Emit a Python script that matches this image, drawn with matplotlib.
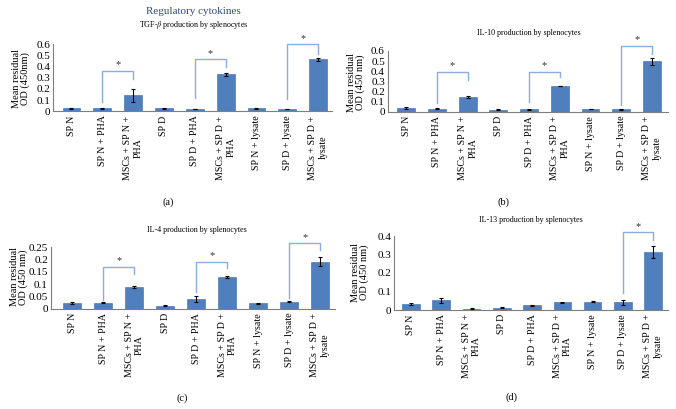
import matplotlib
matplotlib.use("Agg")
import matplotlib.pyplot as plt
import numpy as np

plt.rcParams['font.family'] = ['Liberation Serif', 'DejaVu Serif']
plt.rcParams['mathtext.fontset'] = 'stix'

categories = ["SP N", "SP N + PHA", "MSCs + SP N +\nPHA", "SP D", "SP D + PHA",
              "MSCs + SP D +\nPHA", "SP N + lysate", "SP D + lysate", "MSCs + SP D +\nlysate"]

tgf_vals = [0.027, 0.025, 0.143, 0.025, 0.02, 0.33, 0.025, 0.02, 0.463]
tgf_err = [0.005, 0.004, 0.057, 0.004, 0.003, 0.015, 0.004, 0.003, 0.015]

il10_vals = [0.040, 0.028, 0.142, 0.018, 0.025, 0.254, 0.027, 0.023, 0.500]
il10_err = [0.010, 0.006, 0.010, 0.004, 0.004, 0.004, 0.004, 0.003, 0.035]

il4_vals = [0.0235, 0.0235, 0.0895, 0.0125, 0.041, 0.129, 0.022, 0.0275, 0.192]
il4_err = [0.005, 0.002, 0.004, 0.003, 0.012, 0.005, 0.002, 0.002, 0.017]

il13_vals = [0.033, 0.052, 0.008, 0.013, 0.026, 0.041, 0.044, 0.041, 0.315]
il13_err = [0.005, 0.013, 0.004, 0.004, 0.003, 0.002, 0.003, 0.013, 0.033]

titles = ["TGF-$\\beta$ production by splenocytes", "IL-10 production by splenocytes",
          "IL-4 production by splenocytes", "IL-13 production by splenocytes"]
panel_labels = ["(a)", "(b)", "(c)", "(d)"]
ylabels = ["Mean residual\nOD (450nm)", "Mean residual\nOD (450 nm)",
           "Mean residual\nOD (450 nm)", "Mean residual\nOD (450 nm)"]
ytick_vals = [[0, 0.1, 0.2, 0.3, 0.4, 0.5, 0.6], [0, 0.1, 0.2, 0.3, 0.4, 0.5, 0.6],
              [0, 0.05, 0.1, 0.15, 0.2, 0.25], [0, 0.1, 0.2, 0.3, 0.4]]
ytick_labels = [["0", "0.1", "0.2", "0.3", "0.4", "0.5", "0.6"],
                ["0", "0.1", "0.2", "0.3", "0.4", "0.5", "0.6"],
                ["0", "0.05", "0.1", "0.15", "0.2", "0.25"],
                ["0", "0.1", "0.2", "0.3", "0.4"]]

# significance brackets: (left bar, right bar, left leg bottom, top, right leg bottom)
brackets = [
    [(1, 2, 0.086, 0.36, 0.286), (4, 5, 0.12, 0.464, 0.393), (7, 8, 0.11, 0.598, 0.51)],
    [(1, 2, 0.09, 0.396, 0.31), (4, 5, 0.093, 0.396, 0.34), (7, 8, 0.066, 0.653, 0.568)],
    [(1, 2, 0.035, 0.171, 0.14), (4, 5, 0.07, 0.191, 0.164), (7, 8, 0.042, 0.266, 0.239)],
    [(7, 8, 0.09, 0.42, 0.378)],
]

values = [tgf_vals, il10_vals, il4_vals, il13_vals]
errors = [tgf_err, il10_err, il4_err, il13_err]

W, H = 676, 409
fig = plt.figure(figsize=(W / 100, H / 100), dpi=100)

def px_axes(left, right, top, bottom):
    return [left / W, 1 - bottom / H, (right - left) / W, (bottom - top) / H]

axes_px = [(53, 332, 44, 111.3), (387.7, 667.7, 51, 111.7),
           (50.7, 335, 247.3, 308.7), (394.3, 667.7, 236, 310)]
xlims = [(-0.6, 8.45), (-0.6, 8.51), (-0.7, 8.48), (-0.55, 8.48)]
ylims = [(0, 0.6), (0, 0.6), (0, 0.25), (0, 0.4)]
ylabel_px = [(21, 79), (356, 82), (19, 277), (360, 272)]
title_pos = [(194, 25), (529, 33), (197, 230), (531, 220)]
label_pos = [(168, 202), (504, 202), (182, 398), (512, 397)]

bar_color = "#4f80bd"
bracket_color = "#8cade0"
axis_color = "#7f7f7f"

x = np.arange(len(categories))
for i in range(4):
    ax = fig.add_axes(px_axes(*axes_px[i]))
    ax.bar(x, values[i], width=0.58, color=bar_color, edgecolor="#3d6aa3", linewidth=0.4, zorder=2)
    ax.errorbar(x, values[i], yerr=errors[i], fmt='none', ecolor='black', elinewidth=0.8,
                capsize=1.5, capthick=0.8, zorder=3)
    for (l, r, lb, top, rb) in brackets[i]:
        ax.plot([l, l, r, r], [lb, top, top, rb], color=bracket_color, lw=1.0,
                clip_on=False, zorder=4)
        ax.text((l + r) / 2, top + (ylims[i][1]) * 0.02, "*", ha='center', va='bottom',
                fontsize=7.5, color='#333333', clip_on=False)
    ax.set_xlim(*xlims[i])
    ax.set_ylim(*ylims[i])
    ax.set_yticks(ytick_vals[i])
    ax.set_yticklabels(ytick_labels[i], fontsize=8)
    ax.set_xticks(x)
    ax.set_xticklabels(categories, rotation=90, fontsize=7.2, ha='center', va='top')
    ax.tick_params(axis='both', length=0, colors='black')
    ax.tick_params(axis='x', pad=3)
    ax.tick_params(axis='y', pad=2)
    for s in ['top', 'right']:
        ax.spines[s].set_visible(False)
    for s in ['left', 'bottom']:
        ax.spines[s].set_color(axis_color)
        ax.spines[s].set_linewidth(0.8)
    fig.text(ylabel_px[i][0] / W, 1 - ylabel_px[i][1] / H, ylabels[i], rotation=90,
             ha='center', va='center', fontsize=7.5, linespacing=0.95)
    fig.text(title_pos[i][0] / W, 1 - title_pos[i][1] / H, titles[i], ha='center', va='center',
             fontsize=5.8)
    fig.text(label_pos[i][0] / W, 1 - label_pos[i][1] / H, panel_labels[i], ha='center',
             va='center', fontsize=7.5)

fig.text(193 / W, 1 - 11 / H, "Regulatory cytokines", ha='center', va='center',
         fontsize=8, color='#2e4a7d')

fig.savefig("out.png", dpi=100)
